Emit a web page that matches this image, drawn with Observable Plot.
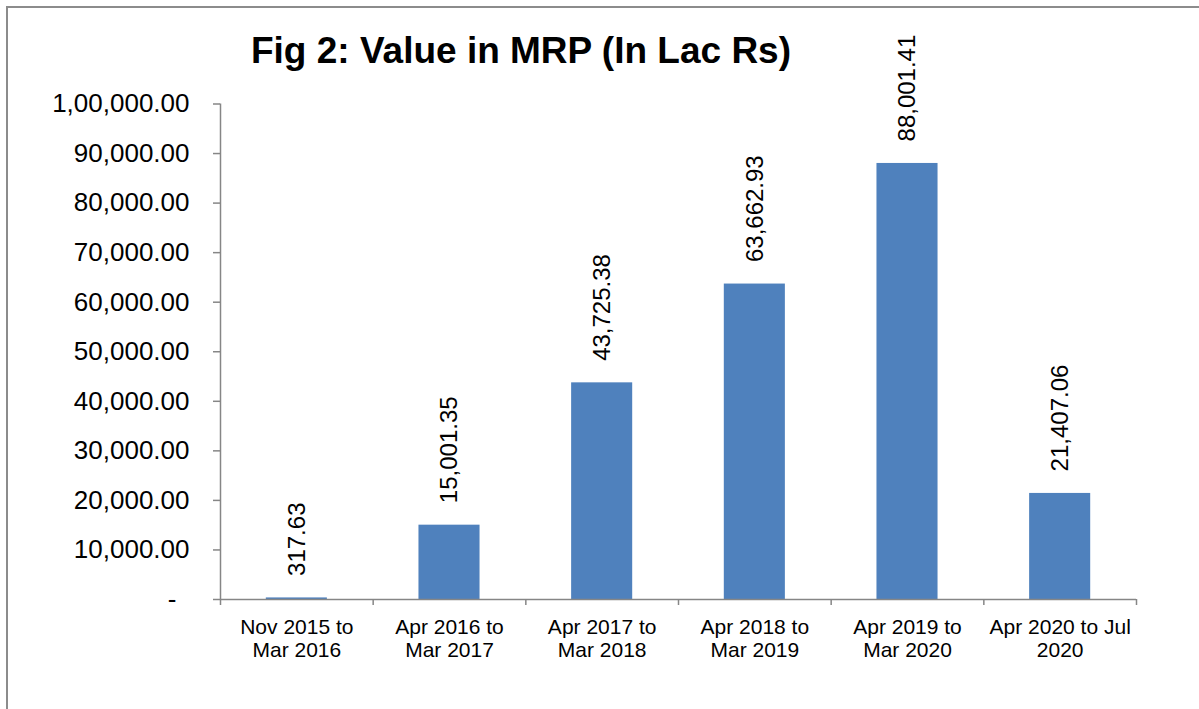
<!DOCTYPE html>
<html>
<head>
<meta charset="utf-8">
<script src="https://cdn.jsdelivr.net/npm/d3@7"></script>
<script src="https://cdn.jsdelivr.net/npm/@observablehq/plot@0.6"></script>
<style>
  html, body { margin: 0; padding: 0; background: #fff; }
  #wrap { position: relative; width: 1199px; height: 709px; overflow: hidden; font-family: "Liberation Sans", Arial, sans-serif; }
  #frame { position: absolute; left: 6px; top: 6px; width: 1300px; height: 800px; border-left: 2px solid #8c8c8c; border-top: 2px solid #8c8c8c; }
  #title { position: absolute; left: 0; width: 1042px; top: 32px; text-align: center; font-size: 37px; line-height: 37px; font-weight: bold; color: #000; }
  #chart { position: absolute; left: 0; top: 0; }
</style>
</head>
<body>
<div id="wrap">
  <div id="frame"></div>
  <div id="chart"></div>
  <div id="title">Fig 2: Value in MRP (In Lac Rs)</div>
</div>
<script>
const categories = [
  "Nov 2015 to\nMar 2016",
  "Apr 2016 to\nMar 2017",
  "Apr 2017 to\nMar 2018",
  "Apr 2018 to\nMar 2019",
  "Apr 2019 to\nMar 2020",
  "Apr 2020 to Jul\n2020"
];
const values = [317.63, 15001.35, 43725.38, 63662.93, 88001.41, 21407.06];
const yTicks = [0, 10000, 20000, 30000, 40000, 50000, 60000, 70000, 80000, 90000, 100000];

function inr(v) {
  if (v === 0) return "-\u2002";
  const [intPart, dec] = v.toFixed(2).split(".");
  let last3 = intPart.slice(-3);
  const rest = intPart.slice(0, -3);
  if (rest) last3 = rest.replace(/\B(?=(\d{2})+(?!\d))/g, ",") + "," + last3;
  return last3 + "." + dec;
}

const data = categories.map((c, i) => ({i, category: c, value: values[i]}));
const axisColor = "#868686";
const font = "Liberation Sans, Arial, sans-serif";

const chart = Plot.plot({
  width: 1199,
  height: 709,
  marginLeft: 220,
  marginRight: 63,
  marginTop: 103.5,
  marginBottom: 110,
  style: {fontFamily: font, background: "transparent", overflow: "visible"},
  x: {domain: [0, categories.length], axis: null},
  y: {domain: [0, 100000], axis: null},
  marks: [
    Plot.rectY(data, {x1: d => d.i + 0.3, x2: d => d.i + 0.7, y: "value", fill: "#4F81BD"}),
    Plot.axisY({ticks: yTicks, tickSize: 7, tickPadding: 24, tickFormat: inr, label: null, fontSize: 26, stroke: axisColor, color: "#000", fill: "#000", strokeWidth: 1.5}),
    Plot.axisX({ticks: d3.range(0, categories.length + 1), tickSize: 6, tickFormat: () => "", label: null, stroke: axisColor, strokeWidth: 1.5}),
    Plot.ruleX([0], {stroke: axisColor, strokeWidth: 1.5}),
    Plot.ruleY([0], {stroke: axisColor, strokeWidth: 1.5}),
    Plot.text(data, {x: d => d.i + 0.5, y: () => 0, text: "category", lineAnchor: "top", lineHeight: 1.11, dy: 18, fontSize: 21, fill: "#000"}),
    Plot.text(data, {x: d => d.i + 0.5, y: "value", text: d => inr(d.value), rotate: -90, textAnchor: "start", dy: -22, fontSize: 24, fill: "#000"})
  ]
});
document.getElementById("chart").appendChild(chart);
</script>
</body>
</html>
